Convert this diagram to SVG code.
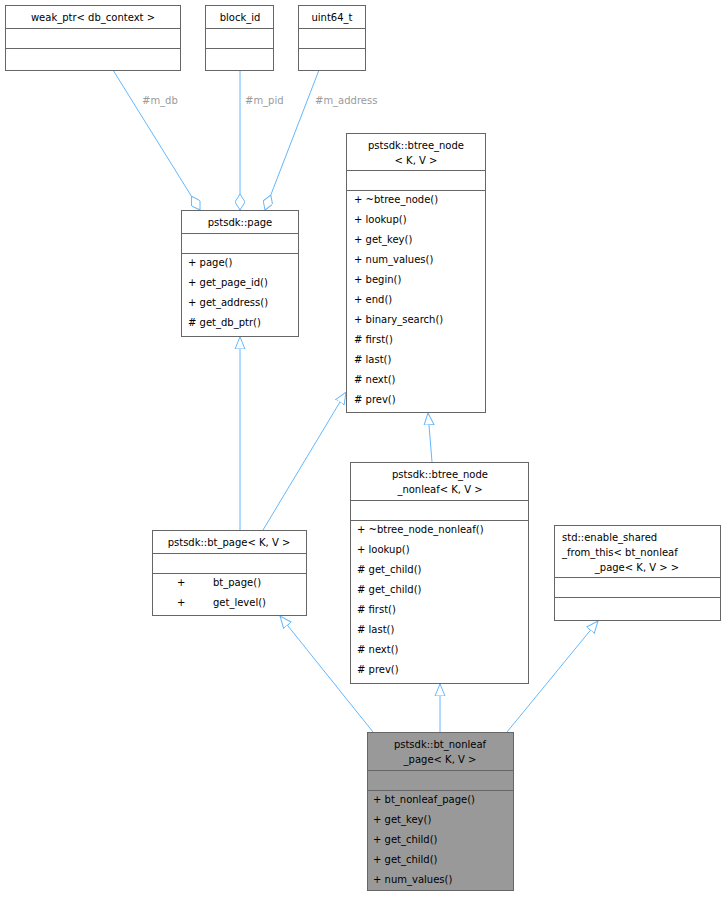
<svg xmlns="http://www.w3.org/2000/svg" width="726" height="897" viewBox="0 0 726 897">
<style>
text{font-family:"DejaVu Sans",sans-serif;font-size:10px;fill:#000}
.c{text-anchor:middle}
.b{fill:#fff;stroke:#666;stroke-width:1}
.g{fill:#999;stroke:#666}
.e{stroke:#63b8ff;fill:none;stroke-width:1}
.l{fill:#9a9a9a;font-size:10px}
</style>
<defs>
<marker id="tri" markerWidth="12" markerHeight="12" refX="0" refY="5" orient="auto" markerUnits="userSpaceOnUse" viewBox="0 0 12 10"><path d="M12,0 L0,5 L12,10 Z" fill="#fff" stroke="#63b8ff"/></marker>
<marker id="dia" markerWidth="16" markerHeight="10" refX="0" refY="5" orient="auto" markerUnits="userSpaceOnUse" viewBox="0 0 16 10"><path d="M0,5 L8,0 L16,5 L8,10 Z" fill="#fff" stroke="#63b8ff"/></marker>
</defs>
<g id="edges">
<path class="e" d="M240,210 L240,70" marker-start="url(#dia)"/>
<path class="e" d="M200,210 L113,70" marker-start="url(#dia)"/>
<path class="e" d="M265,210 L319,70" marker-start="url(#dia)"/>
<text class="l" x="142" y="104">#m_db</text>
<text class="l" x="245" y="104">#m_pid</text>
<text class="l" x="315" y="104">#m_address</text>
<path class="e" d="M240,337 L240,530" marker-start="url(#tri)"/>
<path class="e" d="M346,392 L263,530" marker-start="url(#tri)"/>
<path class="e" d="M428,413 L432,462" marker-start="url(#tri)"/>
<path class="e" d="M280,616 L373,732" marker-start="url(#tri)"/>
<path class="e" d="M440,684 L440,732" marker-start="url(#tri)"/>
<path class="e" d="M598,621 L507,732" marker-start="url(#tri)"/>
</g>
<g id="weak_ptr">
<rect class="b" x="5.5" y="5.5" width="175" height="65"/>
<path class="b" d="M5.5,28.5H180.5M5.5,48.5H180.5"/>
<text class="c" x="93" y="21">weak_ptr&lt; db_context &gt;</text>
</g>
<g id="block_id">
<rect class="b" x="205.5" y="5.5" width="68" height="65"/>
<path class="b" d="M205.5,28.5H273.5M205.5,48.5H273.5"/>
<text class="c" x="240" y="21">block_id</text>
</g>
<g id="uint64_t">
<rect class="b" x="298.5" y="5.5" width="67" height="65"/>
<path class="b" d="M298.5,28.5H365.5M298.5,48.5H365.5"/>
<text class="c" x="332" y="21">uint64_t</text>
</g>
<g id="page">
<rect class="b" x="181.5" y="210.5" width="117" height="126"/>
<path class="b" d="M181.5,233.5H298.5M181.5,253.5H298.5"/>
<text class="c" x="240" y="226">pstsdk::page</text>
<text x="188" y="266">+  page()</text>
<text x="188" y="286">+  get_page_id()</text>
<text x="188" y="306">+  get_address()</text>
<text x="188" y="326">#  get_db_ptr()</text>
</g>
<g id="btree_node">
<rect class="b" x="346.5" y="133.5" width="139" height="279"/>
<path class="b" d="M346.5,170.5H485.5M346.5,190.5H485.5"/>
<text class="c" x="416" y="149">pstsdk::btree_node</text>
<text class="c" x="416" y="164">&lt; K, V &gt;</text>
<text x="354" y="203">+  ~btree_node()</text>
<text x="354" y="223">+  lookup()</text>
<text x="354" y="243">+  get_key()</text>
<text x="354" y="263">+  num_values()</text>
<text x="354" y="283">+  begin()</text>
<text x="354" y="303">+  end()</text>
<text x="354" y="323">+  binary_search()</text>
<text x="354" y="343">#  first()</text>
<text x="354" y="363">#  last()</text>
<text x="354" y="383">#  next()</text>
<text x="354" y="403">#  prev()</text>
</g>
<g id="bt_page">
<rect class="b" x="152.5" y="530.5" width="154" height="85"/>
<path class="b" d="M152.5,553.5H306.5M152.5,573.5H306.5"/>
<text class="c" x="229" y="546">pstsdk::bt_page&lt; K, V &gt;</text>
<text x="177" y="586">+</text><text x="213" y="586">bt_page()</text>
<text x="177" y="606">+</text><text x="213" y="606">get_level()</text>
</g>
<g id="btree_node_nonleaf">
<rect class="b" x="350.5" y="462.5" width="178" height="221"/>
<path class="b" d="M350.5,500.5H528.5M350.5,520.5H528.5"/>
<text class="c" x="440" y="478">pstsdk::btree_node</text>
<text class="c" x="440" y="493">_nonleaf&lt; K, V &gt;</text>
<text x="357" y="533">+  ~btree_node_nonleaf()</text>
<text x="357" y="553">+  lookup()</text>
<text x="357" y="573">#  get_child()</text>
<text x="357" y="593">#  get_child()</text>
<text x="357" y="613">#  first()</text>
<text x="357" y="633">#  last()</text>
<text x="357" y="653">#  next()</text>
<text x="357" y="673">#  prev()</text>
</g>
<g id="enable_shared">
<rect class="b" x="554.5" y="525.5" width="166" height="95"/>
<path class="b" d="M554.5,577.5H720.5M554.5,597.5H720.5"/>
<text x="562" y="541">std::enable_shared</text>
<text x="562" y="556">_from_this&lt; bt_nonleaf</text>
<text class="c" x="637" y="571">_page&lt; K, V &gt; &gt;</text>
</g>
<g id="bt_nonleaf_page">
<rect class="g" x="367.5" y="732.5" width="146" height="158"/>
<path class="g" d="M367.5,770.5H513.5M367.5,790.5H513.5"/>
<text class="c" x="440" y="748">pstsdk::bt_nonleaf</text>
<text class="c" x="440" y="763">_page&lt; K, V &gt;</text>
<text x="373" y="803">+  bt_nonleaf_page()</text>
<text x="373" y="823">+  get_key()</text>
<text x="373" y="843">+  get_child()</text>
<text x="373" y="863">+  get_child()</text>
<text x="373" y="883">+  num_values()</text>
</g>
</svg>
